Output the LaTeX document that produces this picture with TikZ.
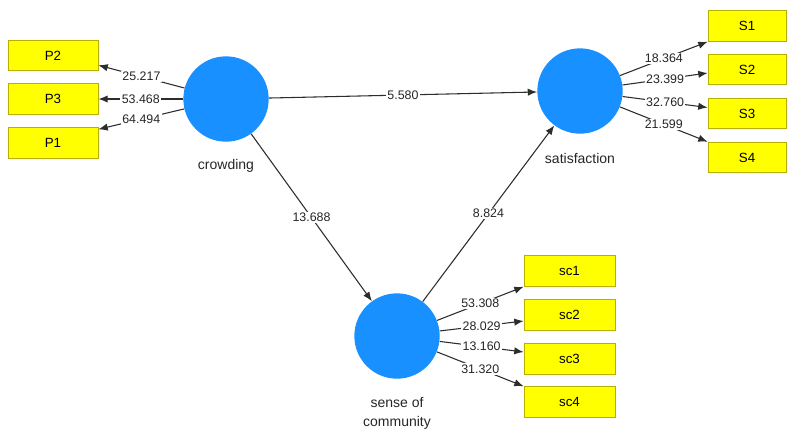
\documentclass[tikz,border=0pt]{standalone}
\usepackage{fontspec}
\setmainfont{Liberation Sans}
\usetikzlibrary{arrows.meta,calc}
\definecolor{lvblue}{RGB}{24,144,255}
\definecolor{boxyellow}{RGB}{255,255,0}
\definecolor{boxedge}{RGB}{185,175,0}
\definecolor{linegray}{RGB}{45,45,45}
\begin{document}
\begin{tikzpicture}[x=0.75pt,y=-0.75pt,
  lv/.style={circle,fill=lvblue,minimum size=64pt,inner sep=0pt},
  ind/.style={draw=boxedge,line width=0.6pt,fill=boxyellow,minimum height=23pt,inner sep=0pt,font=\fontsize{10}{12}\selectfont},
  pbox/.style={ind,minimum width=67.5pt},
  sbox/.style={ind,minimum width=58.5pt},
  scbox/.style={ind,minimum width=68.25pt},
  conn/.style={draw=linegray,line width=0.8pt,-{Latex[length=7pt,width=5.5pt]}},
  val/.style={fill=white,inner sep=1pt,font=\fontsize{9.3}{11}\selectfont,text=black!85},
  lvcaption/.style={font=\fontsize{10.5}{14.25}\selectfont,align=center,text=black!85}]
\useasboundingbox[fill=white] (0,0) rectangle (787,430);
% latent variables
\node[lv] (crowd) at (226,99) {};
\node[lv] (sat) at (580,91) {};
\node[lv] (soc) at (397,336) {};
\node[lvcaption] (crowdlbl) at (226,166) {crowding};
\node[lvcaption] (satlbl) at (580,158) {satisfaction};
\node[lvcaption] (soclbl) at (397,413) {sense of\\community};
% indicators
\node[pbox] (P2) at (53,55.5) {P2};
\node[pbox] (P3) at (53,99) {P3};
\node[pbox] (P1) at (53,143) {P1};
\node[sbox] (S1) at (747,26) {S1};
\node[sbox] (S2) at (747,69.5) {S2};
\node[sbox] (S3) at (747,113.5) {S3};
\node[sbox] (S4) at (747,157.5) {S4};
\node[scbox] (sc1) at (569.5,271) {sc1};
\node[scbox] (sc2) at (569.5,315) {sc2};
\node[scbox] (sc3) at (569.5,359) {sc3};
\node[scbox] (sc4) at (569.5,402) {sc4};
% target coordinates
\coordinate (tP2) at ($(P2.south east)+(0,-6)$);
\coordinate (tP3) at (P3.east);
\coordinate (tP1) at ($(P1.north east)+(0,2)$);
\coordinate (tS1) at (S1.south west);
\coordinate (tS2) at ($(S2.west)+(0,3.5)$);
\coordinate (tS3) at ($(S3.west)+(0,-6)$);
\coordinate (tS4) at (S4.north west);
\coordinate (tsc1) at (sc1.south west);
\coordinate (tsc2) at ($(sc2.west)+(0,6)$);
\coordinate (tsc3) at ($(sc3.west)+(0,-7)$);
\coordinate (tsc4) at (sc4.north west);
% outer loadings
\draw[conn] (crowd) -- node[val] {25.217} (tP2);
\draw[conn] (crowd) -- node[val] {53.468} (tP3);
\draw[conn] (crowd) -- node[val] {64.494} (tP1);
\draw[conn] (sat) -- node[val] {18.364} (tS1);
\draw[conn] (sat) -- node[val] {23.399} (tS2);
\draw[conn] (sat) -- node[val] {32.760} (tS3);
\draw[conn] (sat) -- node[val] {21.599} (tS4);
\draw[conn] (soc) -- node[val] {53.308} (tsc1);
\draw[conn] (soc) -- node[val] {28.029} (tsc2);
\draw[conn] (soc) -- node[val] {13.160} (tsc3);
\draw[conn] (soc) -- node[val] {31.320} (tsc4);
% structural paths
\draw[conn] (crowd) -- node[val] {5.580} (sat);
\draw[conn] (crowd) -- node[val] {13.688} (soc);
\draw[conn] (soc) -- node[val] {8.824} (sat);
\end{tikzpicture}
\end{document}
